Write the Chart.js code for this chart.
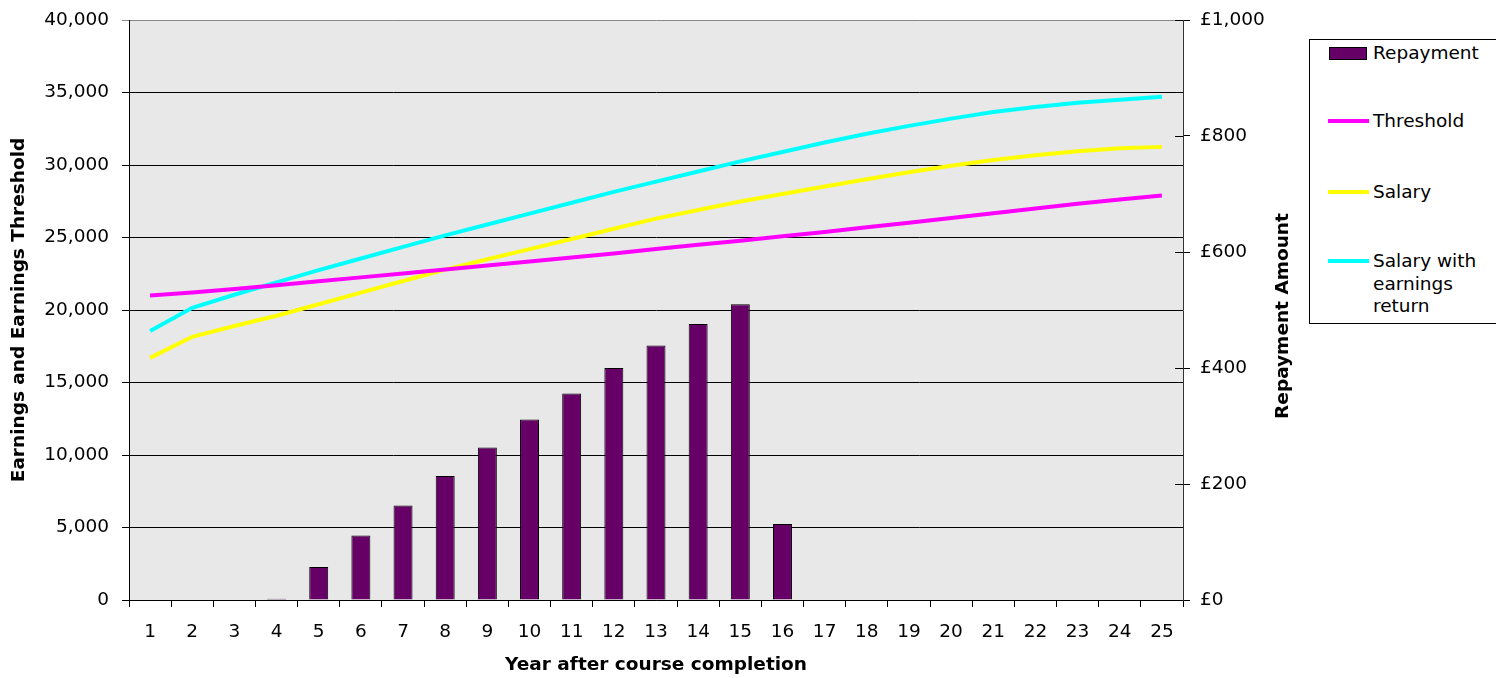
<!DOCTYPE html>
<html>
<head>
<meta charset="utf-8">
<script src="https://cdn.jsdelivr.net/npm/chart.js@4"></script>
<style>
  html, body { margin: 0; padding: 0; background: #fff; overflow: hidden; }
  #wrap { position: relative; width: 1496px; height: 678px; }
  #c { position: absolute; left: 0; top: 0; }
  #legend-box {
    position: absolute; left: 1309px; top: 39px; width: 200px; height: 285px;
    border: 1px solid #000; box-sizing: border-box; background: #fff;
  }
  .legend-row {
    position: absolute; left: 1328px; display: flex; align-items: flex-start;
    font-family: "DejaVu Sans", sans-serif; font-size: 18.5px; line-height: 22.7px; color: #000;
  }
  .legend-mark { width: 41px; height: 22.7px; position: relative; margin-right: 4px; }
  .legend-text { width: 118px; }
</style>
</head>
<body>
<div id="wrap">
  <canvas id="c" width="1496" height="678"></canvas>
  <div id="legend-box"></div>
</div>
<script>
  const years = ["1", "2", "3", "4", "5", "6", "7", "8", "9", "10", "11", "12", "13",
    "14", "15", "16", "17", "18", "19", "20", "21", "22", "23", "24", "25"];

  // annual repayment, pounds (right axis)
  const repayment = [0, 0, 0, 2, 57, 111, 163, 214, 263, 311, 356, 400, 439,
    476, 510, 131, 1, 0, 0, 0, 0, 0, 0, 0, 0];

  // earnings figures (left axis)
  const threshold = [21000, 21200, 21450, 21700, 21980, 22250, 22520, 22800, 23070, 23350,
    23620, 23900, 24200, 24500, 24780, 25080, 25380, 25700, 26020, 26350,
    26680, 27000, 27320, 27620, 27900];
  const salary = [16700, 18150, 18900, 19600, 20400, 21200, 22000, 22780, 23500, 24200,
    24900, 25600, 26300, 26900, 27480, 28000, 28520, 29020, 29500, 29950,
    30350, 30680, 30950, 31150, 31250];
  const salaryReturn = [18550, 20150, 21050, 21900, 22750, 23550, 24350, 25150, 25900, 26650,
    27400, 28150, 28850, 29550, 30250, 30900, 31550, 32150, 32700, 33200,
    33650, 34000, 34300, 34500, 34700];

  const seriesNames = ["Repayment", "Threshold", "Salary", "Salary with earnings return"];
  const seriesColors = ["#660066", "#ff00ff", "#ffff00", "#00ffff"];

  const leftTicks = { min: 0, max: 40000, step: 5000 };
  const rightTicks = { min: 0, max: 1000, step: 200 };

  Chart.defaults.font.family = "'DejaVu Sans', sans-serif";
  Chart.defaults.font.size = 18.5;
  Chart.defaults.color = "#000";

  const plotBackground = {
    id: "plotBackground",
    beforeDraw(chart) {
      const { ctx, chartArea: a } = chart;
      ctx.save();
      ctx.fillStyle = "#e8e8e8";
      ctx.fillRect(a.left, a.top, a.right - a.left, a.bottom - a.top);
      ctx.restore();
    },
  };

  // right axis title reads bottom-to-top, and its ticks cross the axis line
  const rightAxisExtras = {
    id: "rightAxisExtras",
    afterDraw(chart) {
      const { ctx } = chart;
      const a = chart.chartArea;
      const s = chart.scales.y1;
      ctx.save();
      ctx.strokeStyle = "#000";
      ctx.lineWidth = 1;
      s.ticks.forEach((t) => {
        const py = Math.round(s.getPixelForValue(t.value)) + 0.5;
        ctx.beginPath();
        ctx.moveTo(a.right - 8, py);
        ctx.lineTo(a.right, py);
        ctx.stroke();
      });
      ctx.translate(1283, (a.top + a.bottom) / 2 + 6);
      ctx.rotate(-Math.PI / 2);
      ctx.font = "bold 18.5px 'DejaVu Sans', sans-serif";
      ctx.fillStyle = "#000";
      ctx.textAlign = "center";
      ctx.textBaseline = "middle";
      ctx.fillText("Repayment Amount", 0, 0);
      ctx.restore();
    },
  };

  // vertical axes: fixed width, no extra room reserved above/below for labels
  const fixVertical = (width) => (s) => {
    s.width = width;
    s.paddingTop = 0;
    s.paddingBottom = 0;
  };

  const chart = new Chart(document.getElementById("c"), {
    data: {
      labels: years,
      datasets: [
        {
          type: "line",
          label: seriesNames[1],
          data: threshold,
          borderColor: seriesColors[1],
          borderWidth: 4,
          pointRadius: 0,
          yAxisID: "y",
          order: 1,
        },
        {
          type: "line",
          label: seriesNames[2],
          data: salary,
          borderColor: seriesColors[2],
          borderWidth: 4,
          pointRadius: 0,
          yAxisID: "y",
          order: 1,
        },
        {
          type: "line",
          label: seriesNames[3],
          data: salaryReturn,
          borderColor: seriesColors[3],
          borderWidth: 4,
          pointRadius: 0,
          yAxisID: "y",
          order: 1,
        },
        {
          type: "bar",
          label: seriesNames[0],
          data: repayment,
          backgroundColor: seriesColors[0],
          borderColor: "#000",
          borderWidth: 1,
          barPercentage: 0.45,
          categoryPercentage: 1,
          yAxisID: "y1",
          order: 2,
        },
      ],
    },
    options: {
      responsive: false,
      animation: false,
      layout: { padding: { top: 20, left: 0, right: 0, bottom: 0 } },
      plugins: {
        legend: { display: false },
        tooltip: { enabled: false },
      },
      scales: {
        x: {
          type: "category",
          offset: true,
          grid: {
            offset: true,
            drawOnChartArea: false,
            drawTicks: true,
            tickLength: 7,
            color: "#000",
          },
          border: { color: "#000" },
          ticks: { padding: 14, maxRotation: 0, autoSkip: false },
          title: {
            display: true,
            text: "Year after course completion",
            font: { weight: "bold", size: 18.5 },
            padding: { top: 0, bottom: 2 },
          },
          afterFit: (s) => { s.height = 78; },
        },
        y: {
          position: "left",
          min: leftTicks.min,
          max: leftTicks.max,
          ticks: {
            stepSize: leftTicks.step,
            padding: 13,
            callback: (v) => v.toLocaleString("en-US"),
          },
          grid: {
            color: (c) => (c.tick && c.tick.value === leftTicks.max ? "#888" : "#000"),
            tickLength: 7,
          },
          border: { color: "#000" },
          title: {
            display: true,
            text: "Earnings and Earnings Threshold",
            font: { weight: "bold", size: 18.5 },
            padding: { top: 8, bottom: 0 },
          },
          afterFit: fixVertical(129),
        },
        y1: {
          position: "right",
          min: rightTicks.min,
          max: rightTicks.max,
          ticks: {
            stepSize: rightTicks.step,
            padding: 10,
            callback: (v) => "£" + v.toLocaleString("en-GB"),
          },
          grid: { drawOnChartArea: false, tickLength: 7, color: "#000" },
          border: { color: "#333" },
          afterFit: fixVertical(313),
        },
      },
    },
    plugins: [plotBackground, rightAxisExtras],
  });

  // legend: bar swatch first, then the three lines
  const rowTops = [42, 110, 181, 250];
  const wrap = document.getElementById("wrap");
  seriesNames.forEach((name, i) => {
    const row = document.createElement("div");
    row.className = "legend-row";
    row.style.top = rowTops[i] + "px";

    const mark = document.createElement("div");
    mark.className = "legend-mark";
    const sw = document.createElement("div");
    sw.style.position = "absolute";
    sw.style.boxSizing = "border-box";
    if (i === 0) {
      sw.style.left = "1px";
      sw.style.top = "5px";
      sw.style.width = "38px";
      sw.style.height = "13px";
      sw.style.background = seriesColors[i];
      sw.style.border = "1px solid #000";
    } else {
      sw.style.left = "0px";
      sw.style.top = "9px";
      sw.style.width = "41px";
      sw.style.height = "4px";
      sw.style.background = seriesColors[i];
    }
    mark.appendChild(sw);

    const txt = document.createElement("div");
    txt.className = "legend-text";
    txt.textContent = name;

    row.appendChild(mark);
    row.appendChild(txt);
    wrap.appendChild(row);
  });
</script>
</body>
</html>
